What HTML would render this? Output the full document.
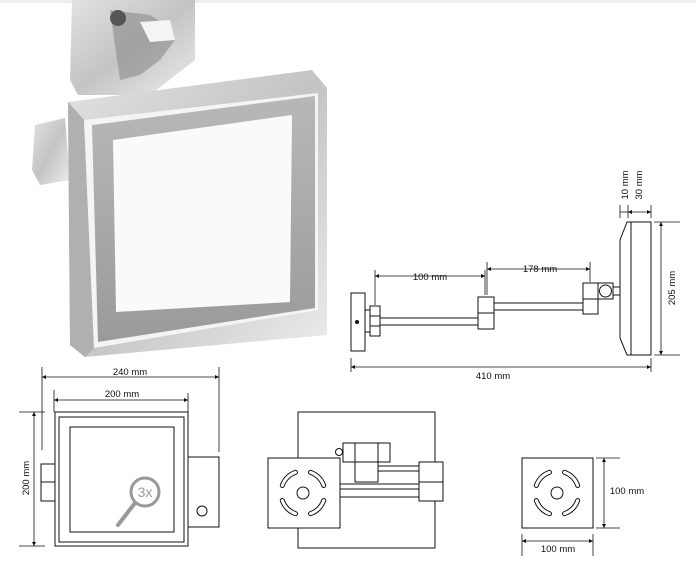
<!DOCTYPE html>
<html><head><meta charset="utf-8"><style>
html,body{margin:0;padding:0;background:#fff;width:696px;height:561px;overflow:hidden}
text{font-family:"Liberation Sans",sans-serif;font-size:9.5px;fill:#111}
</style></head><body>
<svg width="696" height="561" viewBox="0 0 696 561" xmlns="http://www.w3.org/2000/svg">
<defs>
<marker id="a" viewBox="0 0 6 6" refX="6" refY="3" markerWidth="5" markerHeight="5" orient="auto-start-reverse"><path d="M0,0 L6,3 L0,6 z" fill="#111"/></marker>
<linearGradient id="met" x1="0" y1="0" x2="1" y2="1">
<stop offset="0" stop-color="#e2e2e2"/><stop offset="0.5" stop-color="#c4c4c4"/><stop offset="1" stop-color="#ececec"/></linearGradient>
<linearGradient id="band" x1="0" y1="0" x2="0" y2="1">
<stop offset="0" stop-color="#b8b8b8"/><stop offset="1" stop-color="#9a9a9a"/></linearGradient>
<g id="slots" fill="none">
<g stroke="#111" stroke-width="5" stroke-linecap="round">
<path d="M7.5,-20.7 A22,22 0 0 1 20.7,-7.5"/>
<path d="M20.7,7.5 A22,22 0 0 1 7.5,20.7"/>
<path d="M-7.5,20.7 A22,22 0 0 1 -20.7,7.5"/>
<path d="M-20.7,-7.5 A22,22 0 0 1 -7.5,-20.7"/>
</g>
<g stroke="#fff" stroke-width="3" stroke-linecap="round">
<path d="M7.5,-20.7 A22,22 0 0 1 20.7,-7.5"/>
<path d="M20.7,7.5 A22,22 0 0 1 7.5,20.7"/>
<path d="M-7.5,20.7 A22,22 0 0 1 -20.7,7.5"/>
<path d="M-20.7,-7.5 A22,22 0 0 1 -7.5,-20.7"/>
</g>
<circle r="6" stroke="#111" stroke-width="1" fill="#fff"/>
</g>
</defs>

<!-- Photo -->
<rect x="0" y="0" width="696" height="3" fill="#eee"/>
<polygon points="72,0 195,0 195,60 150,95 78,95 70,80" fill="url(#met)"/>
<polygon points="110,10 150,15 165,25 175,40 160,60 140,75 120,80 115,45" fill="#8a8a8a" opacity="0.6"/>
<circle cx="118" cy="18" r="8" fill="#555"/>
<polygon points="140,22 170,20 175,40 150,42" fill="#f4f4f4"/>
<polygon points="35,125 65,118 70,180 40,185 32,170" fill="url(#met)"/>
<polygon points="68,102 312,70 327,88 327,335 85,357 70,345" fill="url(#met)"/>
<polygon points="68,102 84,120 94,348 85,357 70,345" fill="#b0b0b0"/>
<polygon points="84,120 318,93 318,310 94,348" fill="#f4f4f4"/>
<polygon points="92,125 315,96 315,308 98,342" fill="url(#band)"/>
<polygon points="113,140 292,115 290,302 116,312" fill="#fafafa"/>

<!-- Side view -->
<g stroke="#111" stroke-width="1" fill="#fff">
<rect x="351" y="293" width="14" height="58"/>
<rect x="370" y="306" width="10" height="10"/>
<rect x="370" y="316" width="10" height="10"/>
<rect x="370" y="326" width="10" height="10"/>
<line x1="365" y1="310" x2="370" y2="310"/><line x1="365" y1="332" x2="370" y2="332"/>
<line x1="380" y1="318" x2="478" y2="318"/><line x1="380" y1="325" x2="478" y2="325"/>
<rect x="478" y="297" width="16" height="32"/><line x1="478" y1="313" x2="494" y2="313"/>
<line x1="494" y1="303" x2="583" y2="303"/><line x1="494" y1="310" x2="583" y2="310"/>
<rect x="583" y="283" width="15" height="31"/><line x1="583" y1="299" x2="598" y2="299"/>
<rect x="598" y="283" width="15" height="16"/><circle cx="605.5" cy="291" r="6"/>
<line x1="613" y1="287" x2="621" y2="287"/><line x1="613" y1="295" x2="621" y2="295"/>
<polygon points="627,222 651,222 651,355 627,355 620,338 620,240"/>
<line x1="631" y1="222" x2="631" y2="355"/>
</g>
<circle cx="357" cy="322" r="2" fill="#111"/>
<g stroke="#111" stroke-width="0.8" fill="none">
<line x1="375" y1="276" x2="485" y2="276" marker-start="url(#a)" marker-end="url(#a)"/><line x1="375" y1="270" x2="375" y2="305"/><line x1="485" y1="270" x2="485" y2="295"/>
<line x1="487" y1="269" x2="590" y2="269" marker-start="url(#a)" marker-end="url(#a)"/><line x1="487" y1="262" x2="487" y2="295"/><line x1="590" y1="262" x2="590" y2="282"/>
<line x1="351" y1="367" x2="651" y2="367" marker-start="url(#a)" marker-end="url(#a)"/><line x1="351" y1="358" x2="351" y2="372"/><line x1="651" y1="358" x2="651" y2="372"/>
<line x1="661" y1="222" x2="661" y2="355" marker-start="url(#a)" marker-end="url(#a)"/><line x1="654" y1="222" x2="680" y2="222"/><line x1="654" y1="355" x2="680" y2="355"/>
<line x1="628" y1="212" x2="651" y2="212" marker-start="url(#a)" marker-end="url(#a)"/><line x1="620" y1="212" x2="628" y2="212"/><line x1="620" y1="205" x2="620" y2="218"/><line x1="628" y1="205" x2="628" y2="218"/><line x1="651" y1="205" x2="651" y2="218"/>
</g>
<text x="430" y="280" text-anchor="middle">100 mm</text>
<text x="540" y="272" text-anchor="middle">178 mm</text>
<text x="493" y="379" text-anchor="middle">410 mm</text>
<text transform="translate(675,288) rotate(-90)" text-anchor="middle">205 mm</text>
<text transform="translate(628,185) rotate(-90)" text-anchor="middle">10 mm</text>
<text transform="translate(642,185) rotate(-90)" text-anchor="middle">30 mm</text>

<!-- Front view -->
<g stroke="#111" stroke-width="1" fill="#fff">
<rect x="41" y="464" width="14" height="37"/><line x1="41" y1="482" x2="55" y2="482"/>
<rect x="188" y="457" width="31" height="70"/><circle cx="202" cy="511" r="5"/>
<rect x="55" y="412" width="133" height="134"/>
<rect x="59" y="417" width="125" height="125"/>
<rect x="70" y="427" width="104" height="105"/>
</g>
<g stroke="#999" fill="none">
<circle cx="145" cy="492" r="14" stroke-width="3"/>
<line x1="135" y1="503" x2="118" y2="525" stroke-width="4" stroke-linecap="round"/>
</g>
<text x="145" y="497" text-anchor="middle" style="font-size:14px;fill:#999">3x</text>
<g stroke="#111" stroke-width="0.8">
<line x1="42" y1="377" x2="219" y2="377" marker-start="url(#a)" marker-end="url(#a)"/><line x1="42" y1="367" x2="42" y2="450"/><line x1="219" y1="367" x2="219" y2="452"/>
<line x1="54" y1="400" x2="188" y2="400" marker-start="url(#a)" marker-end="url(#a)"/><line x1="54" y1="390" x2="54" y2="412"/><line x1="188" y1="393" x2="188" y2="412"/>
<line x1="34" y1="412" x2="34" y2="546" marker-start="url(#a)" marker-end="url(#a)"/><line x1="19" y1="412" x2="45" y2="412"/><line x1="19" y1="546" x2="45" y2="546"/>
</g>
<text x="130" y="375" text-anchor="middle">240 mm</text>
<text x="122" y="397" text-anchor="middle">200 mm</text>
<text transform="translate(29,478) rotate(-90)" text-anchor="middle">200 mm</text>

<!-- Middle view -->
<g stroke="#111" stroke-width="1" fill="#fff">
<rect x="298" y="412" width="137" height="136"/>
<rect x="343" y="443" width="47" height="19"/><line x1="355" y1="443" x2="355" y2="462"/><line x1="378" y1="443" x2="378" y2="462"/>
<rect x="355" y="462" width="23" height="20"/>
<rect x="378" y="466" width="41" height="5"/>
<rect x="340" y="484" width="79" height="13"/>
<line x1="340" y1="489" x2="419" y2="489"/>
<rect x="419" y="462" width="24" height="39"/><line x1="419" y1="482" x2="443" y2="482"/>
<circle cx="339" cy="452" r="3.5"/>
<rect x="268" y="458" width="72" height="70"/>
</g>
<use href="#slots" x="303" y="493"/>

<!-- Right view -->
<rect x="522" y="458" width="71" height="70" stroke="#111" fill="#fff"/>
<use href="#slots" x="557" y="493"/>
<g stroke="#111" stroke-width="0.8">
<line x1="604" y1="458" x2="604" y2="528" marker-start="url(#a)" marker-end="url(#a)"/><line x1="596" y1="458" x2="620" y2="458"/><line x1="596" y1="528" x2="620" y2="528"/>
<line x1="522" y1="541" x2="593" y2="541" marker-start="url(#a)" marker-end="url(#a)"/><line x1="522" y1="534" x2="522" y2="556"/><line x1="593" y1="534" x2="593" y2="556"/>
</g>
<text x="627" y="494" text-anchor="middle">100 mm</text>
<text x="558" y="552" text-anchor="middle">100 mm</text>
</svg>
</body></html>
